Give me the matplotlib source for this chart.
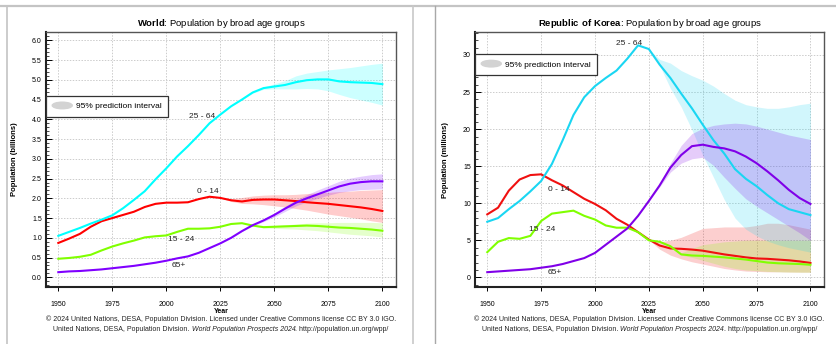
import matplotlib
matplotlib.use("Agg")
import matplotlib.pyplot as plt
from matplotlib.lines import Line2D
from matplotlib.patches import Ellipse, Patch
from matplotlib.legend_handler import HandlerPatch
from matplotlib.offsetbox import TextArea, HPacker, AnchoredOffsetbox
from matplotlib.ticker import MultipleLocator, AutoMinorLocator, FormatStrFormatter

plt.rcParams["font.family"] = ["Liberation Sans", "DejaVu Sans"]
plt.rcParams["mathtext.fontset"] = "custom"
plt.rcParams["mathtext.rm"] = "Liberation Sans"
plt.rcParams["mathtext.bf"] = "Liberation Sans:bold"

# years for estimates and projections
YEARS = list(range(1950, 2101, 5))
PROJ_YEARS = list(range(2025, 2101, 5))

# World, billions
w_0_14 = [0.87, 0.98, 1.10, 1.28, 1.42, 1.50, 1.58, 1.66, 1.78, 1.86, 1.89, 1.89, 1.90, 1.98, 2.04, 2.01,
          1.95, 1.92, 1.96, 1.97, 1.97, 1.95, 1.93, 1.90, 1.88, 1.86, 1.83, 1.80, 1.77, 1.73, 1.68]
w_15_24 = [0.47, 0.49, 0.52, 0.57, 0.68, 0.78, 0.86, 0.93, 1.01, 1.04, 1.06, 1.15, 1.23, 1.23, 1.24, 1.28,
           1.35, 1.37, 1.31, 1.27, 1.28, 1.29, 1.30, 1.31, 1.30, 1.28, 1.26, 1.25, 1.23, 1.21, 1.18]
w_25_64 = [1.05, 1.15, 1.25, 1.36, 1.46, 1.57, 1.75, 1.96, 2.18, 2.48, 2.76, 3.06, 3.32, 3.60, 3.90, 4.12,
           4.33, 4.50, 4.68, 4.79, 4.83, 4.87, 4.94, 4.99, 5.01, 5.01, 4.96, 4.94, 4.93, 4.92, 4.89]
w_65 = [0.13, 0.15, 0.16, 0.18, 0.20, 0.23, 0.26, 0.29, 0.33, 0.37, 0.42, 0.48, 0.53, 0.62, 0.74, 0.86,
        1.00, 1.17, 1.32, 1.44, 1.58, 1.74, 1.89, 2.00, 2.10, 2.20, 2.30, 2.37, 2.41, 2.43, 2.43]

# World 95% prediction intervals (2025-2100)
w_0_14_lo = [2.01, 1.92, 1.87, 1.86, 1.84, 1.81, 1.78, 1.74, 1.70, 1.65, 1.60, 1.56, 1.52, 1.48, 1.43, 1.39]
w_0_14_hi = [2.01, 1.99, 2.02, 2.06, 2.08, 2.09, 2.09, 2.10, 2.12, 2.14, 2.15, 2.17, 2.18, 2.20, 2.21, 2.22]
w_15_24_lo = [1.28, 1.35, 1.37, 1.30, 1.25, 1.24, 1.23, 1.22, 1.20, 1.18, 1.15, 1.12, 1.09, 1.07, 1.05, 1.02]
w_15_24_hi = [1.28, 1.35, 1.37, 1.32, 1.29, 1.31, 1.33, 1.35, 1.37, 1.38, 1.38, 1.39, 1.39, 1.39, 1.39, 1.38]
w_25_64_lo = [4.12, 4.33, 4.49, 4.66, 4.76, 4.77, 4.77, 4.77, 4.78, 4.77, 4.72, 4.63, 4.55, 4.49, 4.43, 4.36]
w_25_64_hi = [4.12, 4.33, 4.51, 4.70, 4.82, 4.90, 4.98, 5.10, 5.17, 5.21, 5.25, 5.28, 5.31, 5.35, 5.39, 5.42]
w_65_lo = [0.86, 1.00, 1.16, 1.30, 1.41, 1.53, 1.67, 1.81, 1.91, 2.00, 2.08, 2.15, 2.19, 2.22, 2.23, 2.24]
w_65_hi = [0.86, 1.00, 1.18, 1.34, 1.48, 1.63, 1.80, 1.96, 2.09, 2.21, 2.32, 2.43, 2.51, 2.56, 2.60, 2.62]

# Republic of Korea, millions
k_0_14 = [8.5, 9.4, 11.7, 13.2, 13.8, 13.9, 13.1, 12.4, 11.5, 10.6, 9.9, 9.05, 7.9, 7.1, 6.1, 5.1,
          4.3, 3.9, 3.85, 3.75, 3.6, 3.35, 3.1, 2.9, 2.7, 2.55, 2.5, 2.4, 2.3, 2.15, 1.95]
k_15_24 = [3.4, 4.8, 5.3, 5.2, 5.6, 7.6, 8.6, 8.8, 9.0, 8.3, 7.8, 7.0, 6.7, 6.7, 6.1, 5.0,
           4.8, 4.2, 3.1, 2.95, 2.9, 2.8, 2.7, 2.55, 2.4, 2.2, 2.0, 1.9, 1.85, 1.8, 1.7]
k_25_64 = [7.5, 8.0, 9.2, 10.3, 11.6, 13.0, 15.3, 18.5, 21.9, 24.3, 25.8, 26.9, 27.9, 29.5, 31.3, 30.8,
           28.7, 26.9, 24.8, 22.8, 20.6, 18.5, 16.7, 14.6, 13.3, 12.3, 11.1, 10.0, 9.2, 8.8, 8.4]
k_65 = [0.7, 0.8, 0.9, 1.0, 1.1, 1.3, 1.5, 1.8, 2.2, 2.6, 3.3, 4.4, 5.5, 6.6, 8.3, 10.3,
        12.4, 14.8, 16.5, 17.7, 17.9, 17.6, 17.4, 17.0, 16.3, 15.4, 14.3, 13.1, 11.8, 10.7, 9.9]

# Republic of Korea 95% prediction intervals (2025-2100)
k_0_14_lo = [5.1, 3.8, 3.0, 2.5, 2.1, 1.8, 1.5, 1.2, 1.0, 0.85, 0.8, 0.75, 0.75, 0.72, 0.7, 0.7]
k_0_14_hi = [5.1, 4.8, 5.0, 5.4, 6.0, 6.6, 6.7, 6.8, 6.8, 6.8, 7.0, 7.3, 7.3, 7.1, 6.8, 6.5]
k_15_24_lo = [5.0, 4.8, 4.2, 3.0, 2.7, 2.3, 1.9, 1.5, 1.2, 1.0, 0.9, 0.8, 0.75, 0.72, 0.7, 0.7]
k_15_24_hi = [5.0, 4.8, 4.2, 3.3, 3.9, 4.4, 4.6, 4.8, 4.9, 5.0, 5.0, 5.0, 5.0, 5.0, 5.0, 5.0]
k_25_64_lo = [30.8, 28.6, 25.5, 23.0, 19.9, 16.5, 13.5, 10.5, 8.0, 6.5, 5.6, 4.9, 4.4, 4.0, 3.7, 3.4]
k_25_64_hi = [30.8, 29.4, 28.9, 27.9, 27.2, 26.6, 25.8, 24.8, 23.9, 23.3, 23.0, 22.8, 22.8, 23.0, 23.3, 23.5]
k_65_lo = [10.3, 12.2, 14.2, 15.4, 16.0, 16.2, 15.1, 13.5, 12.0, 10.6, 9.6, 8.7, 7.8, 6.9, 6.0, 5.0]
k_65_hi = [10.3, 12.6, 15.4, 17.8, 19.4, 20.1, 20.5, 20.7, 20.8, 20.7, 20.4, 20.0, 19.6, 19.2, 18.9, 18.6]

CREDIT1 = "\u00a9 2024 United Nations, DESA, Population Division. Licensed under Creative Commons license CC BY 3.0 IGO."
CREDIT2 = ["United Nations, DESA, Population Division. ", "World Population Prospects 2024",
           ". http://population.un.org/wpp/"]

W, H = 836, 344
fig = plt.figure(figsize=(W / 100, H / 100), dpi=100)


def px(x0, y0, w, h):
    # pixel box (top-left origin) -> figure fraction rect
    return [x0 / W, 1 - (y0 + h) / H, w / W, h / H]


def ellipse_handle(legend, orig_handle, xdescent, ydescent, width, height, fontsize):
    return Ellipse(xy=(width / 2 - xdescent, height / 2 - ydescent), width=width, height=height * 0.95)


def draw_panel(rect, name, unit, series, bands, colors, labels, ylim, ystep, yfmt, legend_top):
    ax = fig.add_axes(rect)
    # prediction intervals first, lines on top
    for (lo, hi), c in zip(bands, colors):
        ax.fill_between(PROJ_YEARS, lo, hi, color=c, alpha=0.2, lw=0)
    for vals, c in zip(series, colors):
        ax.plot(YEARS, vals, color=c, lw=1.5, solid_joinstyle="round")
    for (txt, xy) in labels:
        ax.text(xy[0], xy[1], txt, fontsize=6, ha="center", va="center", color="#222222")

    ax.set_xlim(1944.3, 2106.3)
    ax.set_ylim(*ylim)
    ax.xaxis.set_major_locator(MultipleLocator(25))
    ax.yaxis.set_major_locator(MultipleLocator(ystep))
    ax.yaxis.set_minor_locator(AutoMinorLocator(5))
    ax.yaxis.set_major_formatter(FormatStrFormatter(yfmt))
    ax.grid(True, which="major", color="#cccccc", linestyle=(0, (1.5, 1.5)), lw=0.7)
    ax.set_axisbelow(True)
    ax.tick_params(axis="x", which="major", direction="out", length=3, width=0.7, pad=7, labelsize=5)
    ax.tick_params(axis="y", which="major", direction="in", length=4, width=0.7, pad=3, labelsize=5)
    ax.tick_params(axis="y", which="minor", direction="in", length=2, width=0.5)
    for s in ["left", "bottom"]:
        ax.spines[s].set_linewidth(1.5)
        ax.spines[s].set_color("#222222")
    for s in ["top", "right"]:
        ax.spines[s].set_linewidth(1.0)
        ax.spines[s].set_color("#555555")

    ax.set_title(r"$\bf{" + name.replace(" ", r"\ ") + r"}$: Population by broad age groups",
                 fontsize=6.8, pad=4)
    ax.set_ylabel("Population (" + unit + ")", fontsize=5.5, fontweight="bold", labelpad=10)
    ax.set_xlabel("Year", fontsize=5, fontweight="bold", labelpad=0)

    leg = ax.legend(handles=[Patch(color="#d3d3d3")], labels=["95% prediction interval"],
                    handler_map={Patch: HandlerPatch(patch_func=ellipse_handle)},
                    loc="upper left", bbox_to_anchor=(0, legend_top), borderaxespad=0,
                    fontsize=6, frameon=True, fancybox=False, framealpha=1, edgecolor="#333333",
                    handlelength=2.4, handleheight=0.9, borderpad=0.75, handletextpad=0.5)
    leg.get_frame().set_linewidth(0.9)

    # credits under the axes
    x_mid = rect[0] + rect[2] / 2
    fig.text(x_mid, 1 - 318.7 / H, CREDIT1, fontsize=5, ha="center", va="center", color="#222222")
    parts = [TextArea(t, textprops=dict(fontsize=5, color="#222222", style=st))
             for t, st in zip(CREDIT2, ["normal", "italic", "normal"])]
    box = HPacker(children=parts, pad=0, sep=0, align="baseline")
    fig.add_artist(AnchoredOffsetbox(loc="center", child=box, frameon=False, pad=0, borderpad=0,
                                     bbox_to_anchor=(x_mid, 1 - 329.7 / H),
                                     bbox_transform=fig.transFigure))
    return ax


colors_w = ["#ff0000", "#80ff00", "#00ffff", "#8000ff"]
colors_k = ["#f01010", "#80ff00", "#1ad6f2", "#8000e8"]

draw_panel(px(46, 32, 350, 255), "World", "billions",
           [w_0_14, w_15_24, w_25_64, w_65],
           [(w_0_14_lo, w_0_14_hi), (w_15_24_lo, w_15_24_hi), (w_25_64_lo, w_25_64_hi), (w_65_lo, w_65_hi)],
           colors_w,
           [("0 - 14", (2019.3, 2.18)), ("15 - 24", (2006.8, 0.97)), ("25 - 64", (2016.5, 4.06)),
            ("65+", (2005.9, 0.29))],
           (-0.245, 6.21), 0.5, "%.1f", 0.75)

draw_panel(px(475, 32, 349, 255), "Republic of Korea", "millions",
           [k_0_14, k_15_24, k_25_64, k_65],
           [(k_0_14_lo, k_0_14_hi), (k_15_24_lo, k_15_24_hi), (k_25_64_lo, k_25_64_hi), (k_65_lo, k_65_hi)],
           colors_k,
           [("0 - 14", (1983.3, 11.8)), ("15 - 24", (1975.5, 6.4)), ("25 - 64", (2015.7, 31.5)),
            ("65+", (1981.5, 0.6))],
           (-1.3, 33.1), 5, "%d", 0.914)


# gray panel frames
def fig_line(x0, y0, x1, y1, color, lw):
    fig.add_artist(Line2D([x0 / W, x1 / W], [1 - y0 / H, 1 - y1 / H], color=color, lw=lw))


fig_line(0, 6, W, 6, "#c4c4c4", 1.6)
fig_line(7, 6, 7, H, "#c4c4c4", 1.2)
fig_line(412.7, 6, 412.7, H, "#c8c8c8", 1.2)
fig_line(435, 6, 435, H, "#a8a8a8", 1.0)

fig.savefig("out.png", dpi=100)
